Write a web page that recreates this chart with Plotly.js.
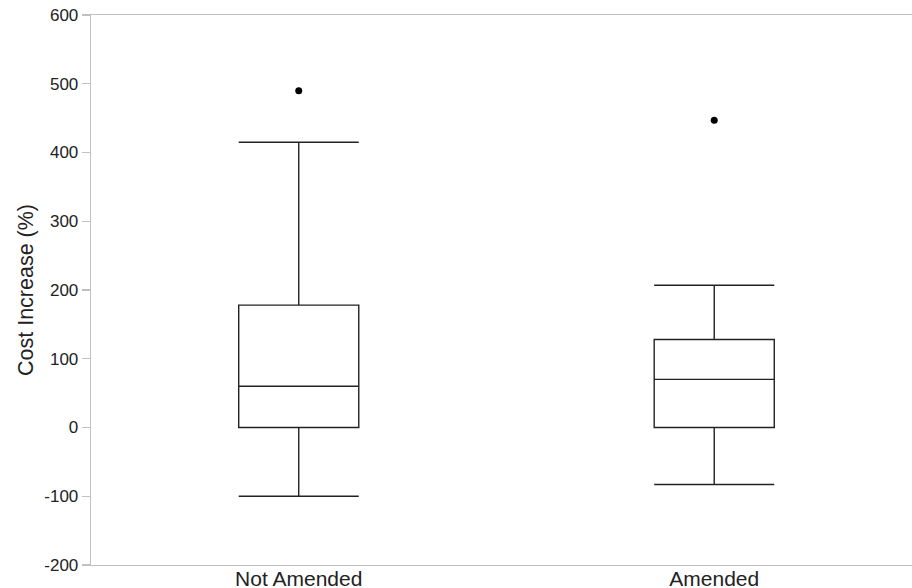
<!DOCTYPE html>
<html>
<head>
<meta charset="utf-8">
<script src="https://cdn.plot.ly/plotly-3.0.1.min.js"></script>
<style>html,body{margin:0;padding:0;background:#fff;}#chart{width:912px;height:588px;}</style>
</head>
<body>
<div id="chart"></div>
<script>
var groups = ["Not Amended", "Amended"];
var lowerWhisker = [-100, -83];
var q1Values = [0, 0];
var medianValues = [60, 70];
var q3Values = [178, 128];
var upperWhisker = [415, 207];
var outlierGroups = ["Not Amended", "Amended"];
var outlierValues = [490, 447];
var yTicks = [-200, -100, 0, 100, 200, 300, 400, 500, 600];
var yTickLabels = ["-200", "-100", "0", "100", "200", "300", "400", "500", "600"];

var boxTrace = {
  type: "box",
  x: groups,
  q1: q1Values,
  median: medianValues,
  q3: q3Values,
  lowerfence: lowerWhisker,
  upperfence: upperWhisker,
  width: 0.289,
  whiskerwidth: 1,
  boxpoints: false,
  fillcolor: "#ffffff",
  line: {color: "#222222", width: 1.4},
  showlegend: false,
  hoverinfo: "skip"
};
var outlierTrace = {
  type: "scatter",
  mode: "markers",
  x: outlierGroups,
  y: outlierValues,
  marker: {color: "#000000", size: 7},
  showlegend: false,
  hoverinfo: "skip"
};

var layout = {
  width: 912,
  height: 588,
  margin: {l: 91, r: 0, t: 15, b: 23},
  paper_bgcolor: "#ffffff",
  plot_bgcolor: "#ffffff",
  font: {family: "Liberation Sans, Arial, sans-serif", color: "#222222"},
  showlegend: false,
  xaxis: {
    type: "category",
    categoryorder: "array",
    categoryarray: groups,
    range: [-0.5, 1.476],
    showline: true,
    mirror: true,
    linecolor: "#c0c0c0",
    linewidth: 1.3,
    ticks: "",
    showgrid: false,
    zeroline: false,
    tickfont: {size: 21, color: "#222222"},
    ticklabelstandoff: -6
  },
  yaxis: {
    range: [-200, 600],
    tickvals: yTicks,
    ticktext: yTickLabels,
    showline: true,
    linecolor: "#c0c0c0",
    linewidth: 1.3,
    ticks: "outside",
    ticklen: 8,
    tickcolor: "#c0c0c0",
    tickwidth: 1.3,
    showgrid: false,
    zeroline: false,
    tickfont: {size: 17, color: "#222222"},
    title: {text: "Cost Increase (%)", font: {size: 21.5, color: "#222222"}, standoff: 4}
  }
};

Plotly.newPlot("chart", [boxTrace, outlierTrace], layout, {displayModeBar: false, staticPlot: true});
</script>
</body>
</html>
